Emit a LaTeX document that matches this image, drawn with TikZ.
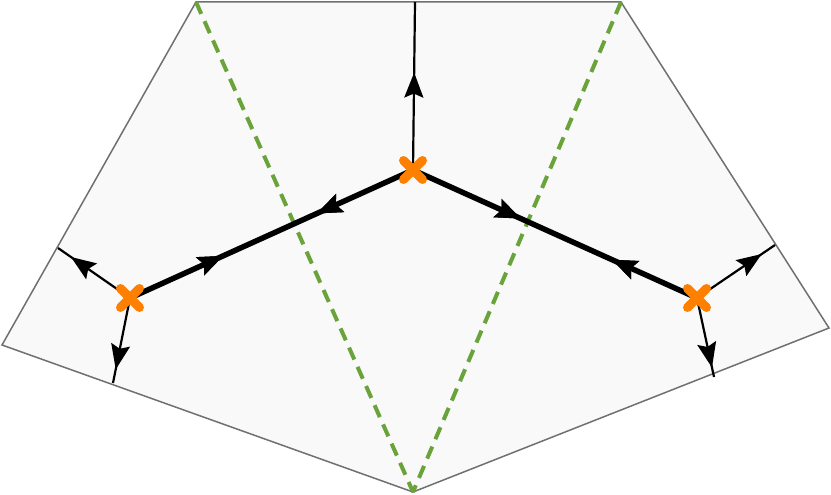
\documentclass[tikz,border=0pt]{standalone}
\usetikzlibrary{arrows.meta,decorations.markings,calc}
\definecolor{panelgray}{RGB}{249,249,249}
\definecolor{bordergray}{RGB}{112,112,112}
\definecolor{cutgreen}{RGB}{106,163,58}
\definecolor{xorange}{RGB}{255,128,0}
\tikzset{
    fwdtip/.style={postaction={decorate},decoration={markings,
        mark=at position #1 with {\arrow{Stealth[length=25pt,width=19pt,inset=4pt]}}}},
    backtip/.style={postaction={decorate},decoration={markings,
        mark=at position #1 with {\arrowreversed{Stealth[length=25pt,width=19pt,inset=4pt]}}}},
    cross/.style={draw=xorange,line width=9pt,line cap=round}
}
\newcommand{\vmark}[1]{%
    \draw[cross] ($(#1)+(-9.5,-9.5)$) -- ($(#1)+(9.5,9.5)$);
    \draw[cross] ($(#1)+(-9.5,9.5)$) -- ($(#1)+(9.5,-9.5)$);}
\begin{document}
\begin{tikzpicture}[x=1pt,y=-1pt]
        \useasboundingbox (0,0) rectangle (831,495);
        % region
        \coordinate (p1) at (196,2);
        \coordinate (p2) at (621,2);
        \coordinate (p3) at (829,328);
        \coordinate (p4) at (413,492);
        \coordinate (p5) at (2,345);
        \draw [draw=bordergray, fill=panelgray, line width=1.5pt] (p1) -- (p2) -- (p3) -- (p4) -- (p5) -- cycle;
        % vertices and ends
        \coordinate (vc) at (413,170);
        \coordinate (vl) at (130,298);
        \coordinate (vr) at (697,298);
        \coordinate (ec) at (415,2);
        \coordinate (el1) at (58,248);
        \coordinate (el2) at (113,383);
        \coordinate (er1) at (775,245);
        \coordinate (er2) at (714,377);
        % cuts
        \draw [cutgreen, line width=4pt, dash pattern=on 13pt off 8pt] (p1) -- (p4);
        \draw [cutgreen, line width=4pt, dash pattern=on 13pt off 8pt] (p2) -- (p4);
        % edges
        \draw [line width=5.5pt, fwdtip=0.33, backtip=0.66] (vl) -- (vc);
        \draw [line width=5.5pt, fwdtip=0.38, backtip=0.7] (vc) -- (vr);
        \draw [line width=2.2pt, fwdtip=0.58] (vc) -- (ec);
        \draw [line width=2.2pt, fwdtip=0.82] (vl) -- (el1);
        \draw [line width=2.2pt, fwdtip=0.84] (vl) -- (el2);
        \draw [line width=2.2pt, fwdtip=0.83] (vr) -- (er1);
        \draw [line width=2.2pt, fwdtip=0.88] (vr) -- (er2);
        \vmark{vc}
        \vmark{vl}
        \vmark{vr}
\end{tikzpicture}
\end{document}
